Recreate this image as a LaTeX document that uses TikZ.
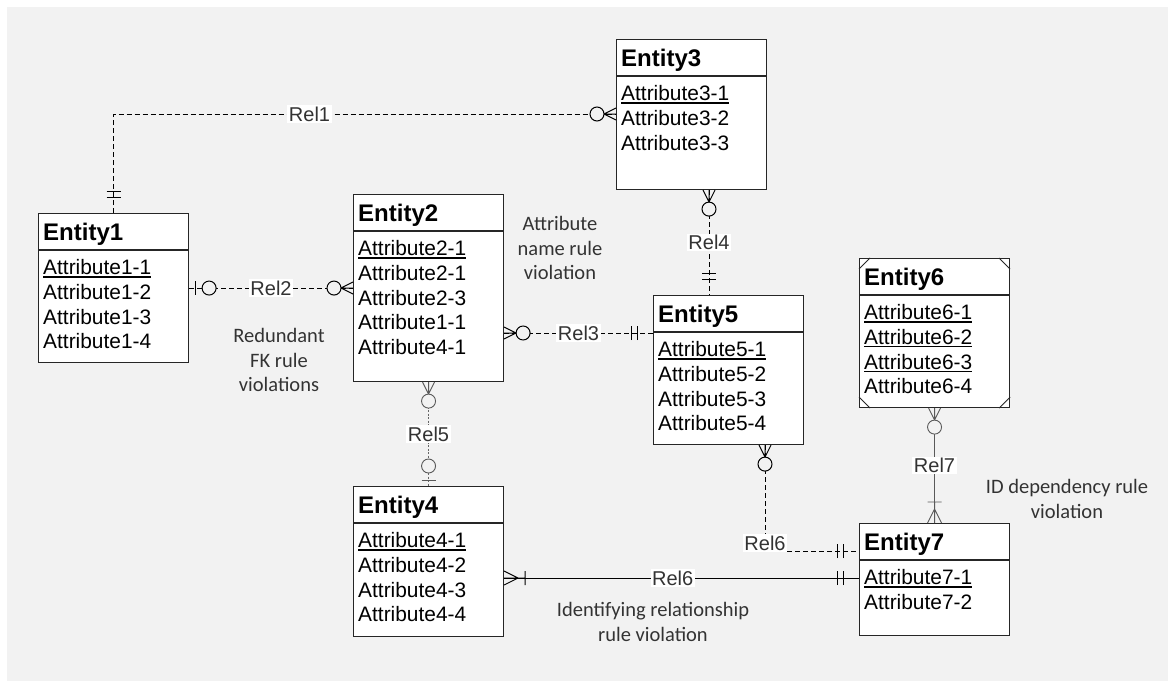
\documentclass[tikz,border=0pt]{standalone}
\usepackage{fontspec}
\setmainfont{Liberation Sans}
\newfontfamily\notefont{Carlito}
\usetikzlibrary{calc}
\definecolor{bggrey}{HTML}{F2F2F2}
\newcommand{\keyattr}[1]{\setbox0\hbox{#1}\rlap{\raisebox{-3pt}{\rule{\wd0}{1.3pt}}}\box0}

\begin{document}
\begin{tikzpicture}[x=1pt, y=-1pt,
    ent/.style={draw=black!85, fill=white, line width=1.1pt, minimum width=150pt, inner sep=0pt, anchor=north west},
    title/.style={font=\bfseries\fontsize{24}{28}\selectfont, anchor=base west, inner sep=0pt},
    attr/.style={font=\fontsize{20.9}{25}\selectfont, anchor=base west, inner sep=0pt},
    rel/.style={fill=white, inner sep=1.5pt, font=\fontsize{20}{24}\selectfont, text=black!80},
    note/.style={font=\notefont\fontsize{20.5}{24.5}\selectfont, align=center, text=black!80},
    dsh/.style={line width=1pt, dash pattern=on 5pt off 3pt},
    dot/.style={line width=0.8pt, black!60, dash pattern=on 2pt off 1.5pt},
    sld/.style={line width=1pt},
    light/.style={line width=0.9pt, black!65},
    one/.pic={\draw (16,-7) -- (16,7) (22,-7) -- (22,7);},
    zone/.pic={\draw (6,-7) -- (6,7); \draw[fill=bggrey] (20,0) circle[radius=7pt];},
    zmany/.pic={\draw (0,-6) -- (12,0) -- (0,6) (0,0) -- (12,0); \draw[fill=bggrey] (19,0) circle[radius=7pt];},
    onemany/.pic={\draw (0,-7) -- (14,0) -- (0,7) (0,0) -- (21,0) (21,-7) -- (21,7);}
]
\useasboundingbox (0,0) rectangle (1175,688);
\fill[white] (0,0) rectangle (1175,688);
\fill[bggrey] (7,7) rectangle (1168,681);

% entities
\foreach \id/\x/\y/\h/\name in {e1/38/213/149/Entity1, e2/353/194/187/Entity2, e3/616/39/150/Entity3,
    e4/353/486/150/Entity4, e5/653/295/149/Entity5, e6/859/258/149/Entity6, e7/859/523/112/Entity7} {
  \node[ent, minimum height=\h pt] (\id) at (\x,\y) {};
  \draw[line width=1.1pt, black!85] ([yshift=-37pt]\id.north west) -- ([yshift=-37pt]\id.north east);
  \node[title] at ([shift={(5,27.6)}]\id.north west) {\name};
}
\foreach \id/\list in {
    e1/{\keyattr{Attribute1-1},Attribute1-2,Attribute1-3,Attribute1-4},
    e2/{\keyattr{Attribute2-1},Attribute2-1,Attribute2-3,Attribute1-1,Attribute4-1},
    e3/{\keyattr{Attribute3-1},Attribute3-2,Attribute3-3},
    e4/{\keyattr{Attribute4-1},Attribute4-2,Attribute4-3,Attribute4-4},
    e5/{\keyattr{Attribute5-1},Attribute5-2,Attribute5-3,Attribute5-4},
    e6/{\keyattr{Attribute6-1},\keyattr{Attribute6-2},\keyattr{Attribute6-3},Attribute6-4},
    e7/{\keyattr{Attribute7-1},Attribute7-2}} {
  \foreach \a [count=\i] in \list
    \node[attr] at ([shift={(5,{61.5+24.8*(\i-1)})}]\id.north west) {\a};
}
% corner marks of Entity6
\draw[line width=0.9pt, black!85] (e6.north west) ++(0,11) -- ++(11,-11)
  (e6.north east) ++(-11,0) -- ++(11,11)
  (e6.south west) ++(0,-11) -- ++(11,11)
  (e6.south east) ++(-11,0) -- ++(11,-11);

% relationships
\draw[dsh] (e1.north) |- (e3.west |- 0,114) node[rel, pos=0.695] {Rel1};
\draw[dsh] (e1.east) -- (e2.west) node[rel, midway] {Rel2};
\draw[dsh] (e2.east |- 0,333) -- (e5.west |- 0,333) node[rel, midway] {Rel3};
\draw[dsh] (e3.south -| 709,0) -- (e5.north -| 709,0) node[rel, midway] {Rel4};
\draw[dot] (e2.south) -- (e4.north) node[rel, midway] {Rel5};
\draw[dsh] (e5.south -| 765,0) |- (e7.west |- 0,551) node[rel, pos=0.5, yshift=8pt] {Rel6};
\draw[sld] (e4.east |- 0,578) -- (e7.west |- 0,578) node[rel, pos=0.475] {Rel6};
\draw[light] (e6.south) -- (e7.north) node[rel, midway] {Rel7};

% cardinality marks
\begin{scope}[line width=1pt]
\pic[rotate=90] at (e1.north) {one};
\pic[rotate=180] at (e3.west |- 0,114) {zmany};
\pic at (e1.east) {zone};
\pic[rotate=180] at (e2.west) {zmany};
\pic at (e2.east |- 0,333) {zmany};
\pic[rotate=180] at (e5.west |- 0,333) {one};
\pic[rotate=-90] at (e3.south -| 709,0) {zmany};
\pic[rotate=90] at (e5.north -| 709,0) {one};
\pic[rotate=-90] at (e5.south -| 765,0) {zmany};
\pic[rotate=180] at (e7.west |- 0,551) {one};
\pic at (e4.east |- 0,578) {onemany};
\pic[rotate=180] at (e7.west |- 0,578) {one};
\end{scope}
\begin{scope}[line width=0.9pt, color=black!65]
\pic[rotate=-90] at (e2.south) {zmany};
\pic[rotate=90] at (e4.north) {zone};
\pic[rotate=-90] at (e6.south) {zmany};
\pic[rotate=90] at (e7.north) {onemany};
\end{scope}

% rule notes
\node[note] (n1) at (560,248) {Attribute\\name rule\\violation};
\node[note] (n2) at (279,360) {Redundant\\FK rule\\violations};
\node[note] (n3) at (653,622) {Identifying relationship\\rule violation};
\node[note] (n4) at (1067,499) {ID dependency rule\\violation};
\end{tikzpicture}
\end{document}
